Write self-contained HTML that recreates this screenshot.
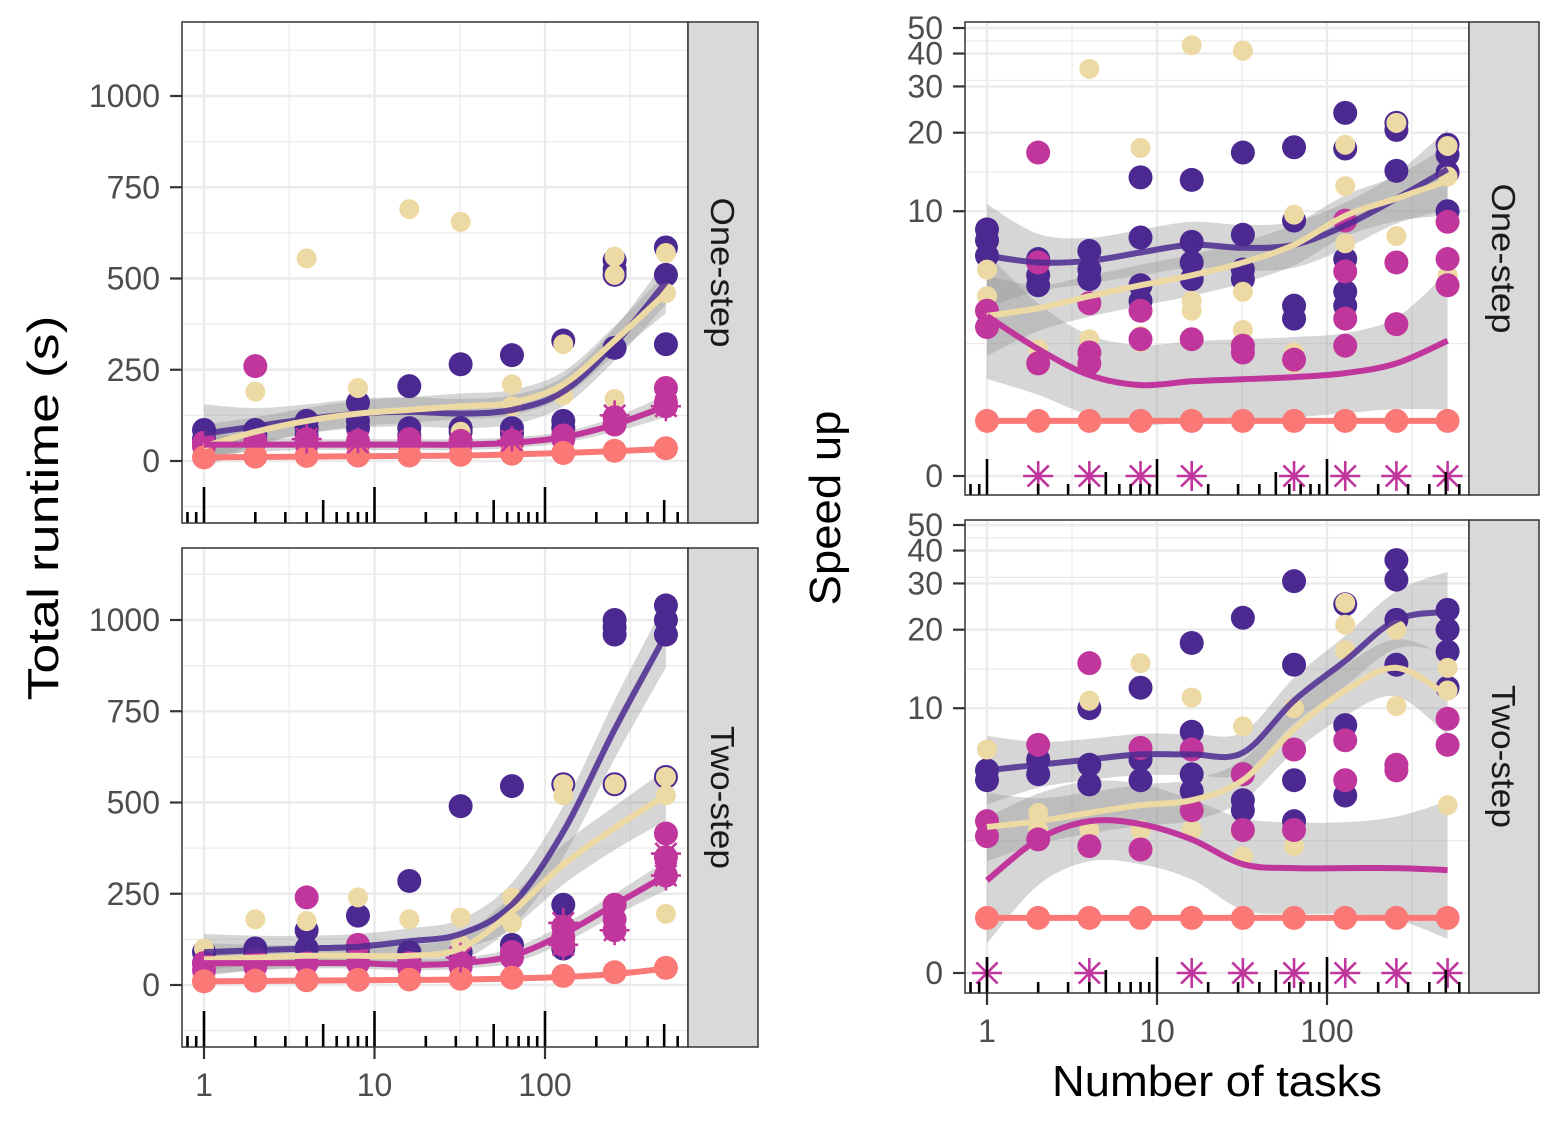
<!DOCTYPE html>
<html><head><meta charset="utf-8"><style>
html,body{margin:0;padding:0;background:#fff;}
svg{display:block;font-family:"Liberation Sans",sans-serif;}
</style></head><body>
<svg id="chart" width="1565" height="1128" viewBox="0 0 1565 1128" xmlns="http://www.w3.org/2000/svg">
<text x="0" y="0" transform="translate(58,508) rotate(-90)" text-anchor="middle" font-size="44" textLength="385" lengthAdjust="spacingAndGlyphs" fill="#000">Total runtime (s)</text>
<text x="0" y="0" transform="translate(840,508) rotate(-90)" text-anchor="middle" font-size="44" textLength="195" lengthAdjust="spacingAndGlyphs" fill="#000">Speed up</text>
<text x="1217" y="1096" text-anchor="middle" font-size="44" textLength="330" lengthAdjust="spacingAndGlyphs" fill="#000">Number of tasks</text>
</svg>
<script>
// ---- shared data ----
const tasks = [1,2,4,8,16,32,64,128,256,512];
const seriesNames = ['purple','beige','magenta','salmon'];
const colors = {purple:'#4B2991', beige:'#EDD9A3', magenta:'#C0369D', salmon:'#FA7876'};

// ---- left top: runtime one-step ----
const rtOnePurple = [[85,60],[85,70],[110,90,70],[160,110,90],[205,90,70],[265,90,80],[290,90,75],[330,110,90],[550,525,510,310],[585,510,320]];
const rtOneBeige = [[45],[190,45],[555,50],[200,50],[690,55],[655,80],[210,150],[320,180],[560,510,170],[570,460,200]];
const rtOneMagenta = [[50,40],[260,55],[60,50],[55,45],[60,50],[55,45],[55,50],[70,60],[100,120],[200,150,160]];
const rtOneSalmon = [[10],[12],[14],[15],[15],[17],[20],[22],[28],[35]];
const rtOneStars = [[],[],[60],[50],[],[],[55],[],[125],[150]];
const rtOneFitPurple = [75,95,115,130,135,130,140,190,320,490];
const rtOneFitBeige = [40,80,110,130,140,150,160,210,330,460];
const rtOneFitMagenta = [45,45,45,45,45,45,50,65,100,150];
const rtOneFitSalmon = [10,11,12,13,14,15,18,22,27,33];
const rtOneSePurple = [80,50,40,40,40,40,40,40,45,60];
const rtOneSeBeige = [60,40,35,35,35,35,35,35,40,55];
const rtOneSeMagenta = [30,20,15,15,15,15,15,15,20,30];
const rtOneSeSalmon = [8,5,4,4,4,4,4,4,5,8];

// ---- left bottom: runtime two-step ----
const rtTwoPurple = [[90,60],[100,80],[150,100,80],[190,100,80],[285,90,70],[490,90,70],[545,110,90],[550,220,100],[1000,980,960,550],[1040,1000,960,570]];
const rtTwoBeige = [[100,50],[180,50],[175,50],[240,50],[180,50],[185,110],[240,170],[550,520],[550,210],[570,520,195]];
const rtTwoMagenta = [[60,40],[70,50],[240,60],[110,60],[60,45],[60,50],[90,75],[160,110,130],[220,180,150],[415,300,350]];
const rtTwoSalmon = [[10],[12],[13],[14],[15],[17],[20],[25],[35],[47]];
const rtTwoStars = [[],[],[],[],[],[75],[],[170,110],[150],[360,300]];
const rtTwoFitPurple = [90,95,100,105,120,140,220,420,700,960];
const rtTwoFitBeige = [70,75,80,80,80,100,200,330,430,520];
const rtTwoFitMagenta = [60,60,60,60,55,60,80,140,220,300];
const rtTwoFitSalmon = [10,11,12,13,14,15,18,22,30,45];
const rtTwoSePurple = [50,40,35,35,35,40,60,70,80,90];
const rtTwoSeBeige = [45,35,30,30,30,35,45,55,60,70];
const rtTwoSeMagenta = [30,20,15,15,15,15,20,25,30,40];
const rtTwoSeSalmon = [8,5,4,4,4,4,4,5,6,9];

// ---- right top: speed-up one-step ----
const suOnePurple = [[8.5,7.7,6.7],[6.5,5.6,5.1],[7,5.9,5.4],[13.5,7.9,5.1,4.4],[13.2,7.6,6.3,5.4],[16.8,8.1,5.9,5.4],[17.6,9.2,4.2,3.7],[23.8,17.4,6.5,4.8,4.2],[20.5,21.8,14.3],[18,16.5,14.1,10]];
const suOneBeige = [[5.9,4.6,4.0],[2.7],[35,3.0],[17.5,2.9,3.1],[43,4.4,4.0],[41,4.8,3.3],[9.7,2.6,2.3],[18,12.5,7.5],[21.8,8],[17.8,13.6,5.6]];
const suOneMagenta = [[3.4,4.0],[16.8,6.3,2.3],[4.3,2.3,2.6],[3.0,4.0],[3.0],[2.8,2.6],[2.4],[9.2,5.8,3.7,2.8],[6.3,3.5],[9.1,6.5,5.1]];
const suOneSalmon = [[1],[1],[1],[1],[1],[1],[1],[1],[1],[1]];
const suOneStars = [[],[0],[0],[0],[0],[],[0],[0],[0],[0]];
const suOneFitPurple = [6.7,6.3,6.4,6.9,7.4,7.2,7.4,8.8,11.2,14.5];
const suOneFitBeige = [3.8,4.1,4.6,5.1,5.6,6.3,7.4,9.6,11.2,13.1];
const suOneFitMagenta = [3.8,2.7,2.0,1.76,1.85,1.9,1.95,2.05,2.3,2.95];
const suOneFitSalmon = [1,1,1,1,1,1,1,1,1,1];
const suOneSePurple = [0.45,0.25,0.2,0.2,0.2,0.2,0.2,0.2,0.22,0.35];
const suOneSeBeige = [0.35,0.2,0.18,0.18,0.18,0.18,0.18,0.18,0.2,0.3];
const suOneSeMagenta = [0.55,0.4,0.35,0.35,0.35,0.35,0.35,0.35,0.4,0.6];
const suOneSeSalmon = [0.02,0.02,0.02,0.02,0.02,0.02,0.02,0.02,0.02,0.02];

// ---- right bottom: speed-up two-step ----
const suTwoPurple = [[5.7,5.2],[6.3,5.5],[10,6.0,5.0],[12,6.3,5.2],[17.8,8.1,5.5,4.7],[22.2,5.5,4.3,3.9],[30.6,14.7,5.2,3.5],[25,8.6,4.5],[36.8,31,21.8,14.7],[23.8,20,16.5,12]];
const suTwoBeige = [[6.9,3.2],[3.8,3.2],[10.7,3.2],[14.9,3.2],[11,3.2],[8.5,2.4],[10,2.7],[25.3,20.9,16.7],[20,10.2],[14.3,11.7,4.1]];
const suTwoMagenta = [[3.0,3.5],[7.2,2.9],[14.9,2.7],[7.0,2.6],[6.9,3.9],[5.5,3.2],[6.9,3.2],[7.5,5.2],[6.0,5.7],[9.1,7.2]];
const suTwoSalmon = [[1],[1],[1],[1],[1],[1],[1],[1],[1],[1]];
const suTwoStars = [[0],[],[0],[],[0],[0],[0],[0],[0],[0]];
const suTwoFitPurple = [5.7,6.0,6.3,6.6,6.6,6.7,10.7,15.2,21.8,23.4];
const suTwoFitBeige = [3.3,3.5,3.8,4.1,4.3,5.2,8.3,11.7,14.3,11.2];
const suTwoFitMagenta = [1.8,2.9,3.5,3.4,2.9,2.2,2.1,2.1,2.1,2.05];
const suTwoFitSalmon = [1,1,1,1,1,1,1,1,1,1];
const suTwoSePurple = [0.3,0.2,0.18,0.18,0.18,0.18,0.2,0.22,0.25,0.35];
const suTwoSeBeige = [0.3,0.2,0.18,0.18,0.18,0.18,0.2,0.22,0.25,0.35];
const suTwoSeMagenta = [0.55,0.4,0.35,0.35,0.35,0.4,0.4,0.4,0.45,0.6];
const suTwoSeSalmon = [0.02,0.02,0.02,0.02,0.02,0.02,0.02,0.02,0.02,0.02];

const rtTicks = [0,250,500,750,1000];
const suTicks = [0,10,20,30,40,50];
const xTicks = [1,10,100];

const NS = 'http://www.w3.org/2000/svg';
const svg = document.getElementById('chart');
function mk(tag, attrs, parent){ const e=document.createElementNS(NS,tag); for(const k in attrs) e.setAttribute(k,attrs[k]); (parent||svg).appendChild(e); return e; }

function smoothPath(pts){
  let d='M'+pts[0][0].toFixed(1)+','+pts[0][1].toFixed(1);
  for(let i=0;i<pts.length-1;i++){
    const p0=pts[Math.max(0,i-1)],p1=pts[i],p2=pts[i+1],p3=pts[Math.min(pts.length-1,i+2)];
    const c1=[p1[0]+(p2[0]-p0[0])/6,p1[1]+(p2[1]-p0[1])/6];
    const c2=[p2[0]-(p3[0]-p1[0])/6,p2[1]-(p3[1]-p1[1])/6];
    d+=' C'+c1[0].toFixed(1)+','+c1[1].toFixed(1)+' '+c2[0].toFixed(1)+','+c2[1].toFixed(1)+' '+p2[0].toFixed(1)+','+p2[1].toFixed(1);
  }
  return d;
}

function panel(cfg){
  const {x0,x1,y0,y1,xAt,tr,yPix,name,strip,stripLen,yTickVals,yMinor,pts,stars,fits,ses,showX,xLabelY} = cfg;
  const g = mk('g',{});
  
  
  const cid = 'clip-'+name;
  const cp = mk('clipPath',{id:cid},g); mk('rect',{x:x0,y:y0,width:x1-x0,height:y1-y0},cp);
  const grid = mk('g',{},g);
  
  
  [0.5,1.5,2.5].forEach(e=>{ const x=xAt(Math.pow(10,e)); mk('line',{x1:x,x2:x,y1:y0,y2:y1,stroke:'#EBEBEB','stroke-width':1.2},grid); });
  yMinor.forEach(t=>{ const y=yPix(t); if(y>y0&&y<y1) mk('line',{x1:x0,x2:x1,y1:y,y2:y,stroke:'#EBEBEB','stroke-width':1.2},grid); });
  xTicks.forEach(v=>{ const x=xAt(v); mk('line',{x1:x,x2:x,y1:y0,y2:y1,stroke:'#EBEBEB','stroke-width':2.4},grid); });
  yTickVals.forEach(v=>{ const y=yPix(tr(v)); mk('line',{x1:x0,x2:x1,y1:y,y2:y,stroke:'#EBEBEB','stroke-width':2.4},grid); });
  const body = mk('g',{'clip-path':'url(#'+cid+')'},g);
  seriesNames.forEach(s=>{
    const up=fits[s].map((v,i)=>[xAt(tasks[i]),yPix(tr(v)+ses[s][i])]);
    const lo=fits[s].map((v,i)=>[xAt(tasks[i]),yPix(tr(v)-ses[s][i])]).reverse();
    const d=smoothPath(up)+' L'+smoothPath(lo).slice(1)+' Z';
    const r=mk('path',{d:d,fill:'#999999','fill-opacity':0.4,stroke:'none'},body);
    
    
  });
  seriesNames.forEach(s=>{
    pts[s].forEach((arr,i)=>arr.forEach(v=>{
      const c=mk('circle',{cx:xAt(tasks[i]),cy:yPix(tr(v)),r:s==='beige'?10:12,fill:colors[s]},body);
      
      
    }));
  });
  stars.forEach((arr,i)=>arr.forEach(v=>{
    const cx=xAt(tasks[i]), cy=yPix(tr(v)), R=15;
    const sg=mk('g',{stroke:colors.magenta,'stroke-width':2.6},body);
    
    
    [0,45,90,135].forEach(a=>{ const rad=a*Math.PI/180; mk('line',{x1:cx-R*Math.cos(rad),y1:cy-R*Math.sin(rad),x2:cx+R*Math.cos(rad),y2:cy+R*Math.sin(rad)},sg); });
  }));
  seriesNames.forEach(s=>{
    const p=fits[s].map((v,i)=>[xAt(tasks[i]),yPix(tr(v))]);
    const l=mk('path',{d:smoothPath(p),fill:'none',stroke:colors[s],'stroke-width':6,'stroke-opacity':s==='purple'?0.85:1},body);
    
    
  });
  const lt = mk('g',{stroke:'#000','stroke-width':2.6},g);
  
  
  for(let e=-1;e<=3;e++){ for(let m=1;m<=9;m++){ const v=m*Math.pow(10,e); const x=xAt(v); if(x<x0+2||x>x1-2) continue; const h=m===1?36:(m===5?23:11); mk('line',{x1:x,x2:x,y1:y1,y2:y1-h},lt); } }
  mk('rect',{x:x0,y:y0,width:x1-x0,height:y1-y0,fill:'none',stroke:'#333','stroke-width':1.5},g);
  const st=mk('rect',{x:x1,y:y0,width:70,height:y1-y0,fill:'#D9D9D9',stroke:'#333','stroke-width':1.5},g);
  
  
  const sx=x1+35, sy=(y0+y1)/2;
  const stt=mk('text',{x:0,y:0,transform:'translate('+(sx-12)+','+sy+') rotate(90)','text-anchor':'middle','font-size':33,textLength:stripLen,lengthAdjust:'spacingAndGlyphs',fill:'#1A1A1A'},g);
  stt.textContent=strip;
  
  
  yTickVals.forEach(v=>{
    const y=yPix(tr(v));
    mk('line',{x1:x0-12,x2:x0,y1:y,y2:y,stroke:'#333','stroke-width':2.2},g);
    const t=mk('text',{x:x0-22,y:y+11,'text-anchor':'end','font-size':32,fill:'#4D4D4D'},g);
    t.textContent=v;
    
    
  });
  if(showX){
    xTicks.forEach(v=>{
      const x=xAt(v);
      mk('line',{x1:x,x2:x,y1:y1,y2:y1+12,stroke:'#333','stroke-width':2.2},g);
      const t=mk('text',{x:x,y:xLabelY,'text-anchor':'middle','font-size':32,fill:'#4D4D4D'},g);
      t.textContent=v;
      
      
    });
  }
}

const xL = v=>204+170.5*Math.log10(v);
const xR = v=>987+170*Math.log10(v);
const idT = v=>v;
const asT = v=>Math.asinh(v/2);
const rtMinor=[-125,125,375,625,875,1125];
const suMinor=[1.156,2.655,3.455,3.8,4.1];

panel({name:'panel-runtime-one-step',strip:'One-step',stripLen:150,x0:182,x1:688,y0:22,y1:523,xAt:xL,tr:idT,yPix:t=>461-0.365*t,yTickVals:rtTicks,yMinor:rtMinor,
  pts:{purple:rtOnePurple,beige:rtOneBeige,magenta:rtOneMagenta,salmon:rtOneSalmon},stars:rtOneStars,
  fits:{purple:rtOneFitPurple,beige:rtOneFitBeige,magenta:rtOneFitMagenta,salmon:rtOneFitSalmon},
  ses:{purple:rtOneSePurple,beige:rtOneSeBeige,magenta:rtOneSeMagenta,salmon:rtOneSeSalmon},showX:false});
panel({name:'panel-runtime-two-step',strip:'Two-step',stripLen:143,x0:182,x1:688,y0:548,y1:1047,xAt:xL,tr:idT,yPix:t=>985-0.365*t,yTickVals:rtTicks,yMinor:rtMinor,
  pts:{purple:rtTwoPurple,beige:rtTwoBeige,magenta:rtTwoMagenta,salmon:rtTwoSalmon},stars:rtTwoStars,
  fits:{purple:rtTwoFitPurple,beige:rtTwoFitBeige,magenta:rtTwoFitMagenta,salmon:rtTwoFitSalmon},
  ses:{purple:rtTwoSePurple,beige:rtTwoSeBeige,magenta:rtTwoSeMagenta,salmon:rtTwoSeSalmon},showX:true,xLabelY:1096});
panel({name:'panel-speedup-one-step',strip:'One-step',stripLen:150,x0:965,x1:1469,y0:22,y1:495,xAt:xR,tr:asT,yPix:t=>476-114.5*t,yTickVals:suTicks,yMinor:suMinor,
  pts:{purple:suOnePurple,beige:suOneBeige,magenta:suOneMagenta,salmon:suOneSalmon},stars:suOneStars,
  fits:{purple:suOneFitPurple,beige:suOneFitBeige,magenta:suOneFitMagenta,salmon:suOneFitSalmon},
  ses:{purple:suOneSePurple,beige:suOneSeBeige,magenta:suOneSeMagenta,salmon:suOneSeSalmon},showX:false});
panel({name:'panel-speedup-two-step',strip:'Two-step',stripLen:143,x0:965,x1:1469,y0:520,y1:993,xAt:xR,tr:asT,yPix:t=>973-114.5*t,yTickVals:suTicks,yMinor:suMinor,
  pts:{purple:suTwoPurple,beige:suTwoBeige,magenta:suTwoMagenta,salmon:suTwoSalmon},stars:suTwoStars,
  fits:{purple:suTwoFitPurple,beige:suTwoFitBeige,magenta:suTwoFitMagenta,salmon:suTwoFitSalmon},
  ses:{purple:suTwoSePurple,beige:suTwoSeBeige,magenta:suTwoSeMagenta,salmon:suTwoSeSalmon},showX:true,xLabelY:1042});
</script>
</body></html>
